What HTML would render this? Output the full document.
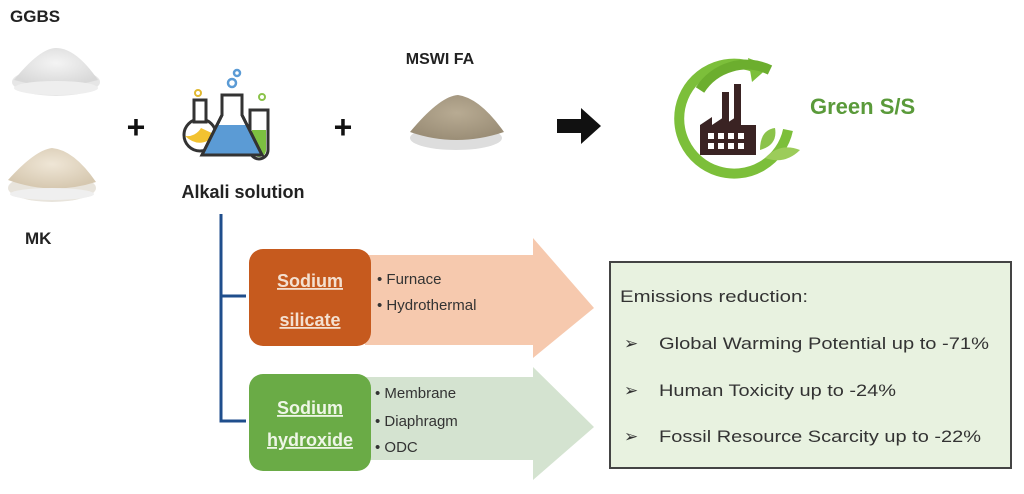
<!DOCTYPE html>
<html><head><meta charset="utf-8"><style>
html,body{margin:0;padding:0;background:#fff}
svg{display:block}
text{font-family:"Liberation Sans",sans-serif}
</style></head><body>
<svg width="1024" height="494" viewBox="0 0 1024 494" xmlns="http://www.w3.org/2000/svg">
<defs>
<radialGradient id="w" cx="50%" cy="40%" r="60%"><stop offset="0" stop-color="#f4f4f4"/><stop offset="1" stop-color="#d8d8d8"/></radialGradient>
<radialGradient id="mk" cx="50%" cy="40%" r="60%"><stop offset="0" stop-color="#efe6d6"/><stop offset="1" stop-color="#d6c8b0"/></radialGradient>
<radialGradient id="fa" cx="50%" cy="40%" r="60%"><stop offset="0" stop-color="#b8ab93"/><stop offset="1" stop-color="#9b8e77"/></radialGradient>
</defs>
<text x="10" y="22" font-size="17" font-weight="bold" fill="#222">GGBS</text>
<ellipse cx="56" cy="82" rx="44" ry="14" fill="#e6e6e6"/>
<path d="M14 80 Q40 48 56 48 Q76 48 98 80 Q56 92 14 80Z" fill="url(#w)"/>
<ellipse cx="56" cy="88" rx="42" ry="7" fill="#eee"/>
<ellipse cx="52" cy="188" rx="44" ry="14" fill="#e8e4dc"/>
<path d="M8 180 Q35 150 52 148 Q74 150 96 182 Q52 196 8 180Z" fill="url(#mk)"/>
<ellipse cx="52" cy="194" rx="42" ry="6" fill="#efefef"/>
<text x="25" y="244" font-size="17" font-weight="bold" fill="#222">MK</text>
<text x="136" y="138" font-size="32" font-weight="bold" fill="#111" text-anchor="middle">+</text>
<text x="343" y="138" font-size="32" font-weight="bold" fill="#111" text-anchor="middle">+</text>
<g stroke="#333" stroke-width="3" fill="none">
<circle cx="200" cy="135" r="16" fill="#fff"/>
<rect x="194" y="100" width="12" height="22" fill="#fff"/>
<path d="M201 128 a16 16 0 0 1 -16 8 Q200 150 216 135Z" fill="#f2c230" stroke="none"/>
<path d="M250 110 h18 v40 a9 9 0 0 1 -18 0Z" fill="#fff"/>
<path d="M252 130 h14 v20 a7 7 0 0 1 -14 0Z" fill="#7cc040" stroke="none"/>
<path d="M222 95 h20 v20 l20 40 h-60 l20 -40Z" fill="#fff"/>
<path d="M217 125 h30 l14 29 h-58Z" fill="#5b9bd5" stroke="none"/>
<path d="M222 95 h20 v20 l20 40 h-60 l20 -40Z"/>
</g>
<g stroke="#5b9bd5" stroke-width="2.5" fill="none"><circle cx="232" cy="83" r="4"/><circle cx="237" cy="73" r="3"/></g>
<circle cx="198" cy="93" r="3" stroke="#e0b830" stroke-width="2" fill="none"/>
<circle cx="262" cy="97" r="3" stroke="#8bc34a" stroke-width="2" fill="none"/>
<text x="243" y="198" font-size="18" font-weight="bold" fill="#222" text-anchor="middle">Alkali solution</text>
<text x="440" y="64" font-size="16" font-weight="bold" fill="#222" text-anchor="middle">MSWI FA</text>
<ellipse cx="456" cy="138" rx="46" ry="12" fill="#ddd"/>
<path d="M410 132 Q440 96 458 95 Q480 98 504 132 Q456 148 410 132Z" fill="url(#fa)"/>
<path d="M557 119 h24 v-11 l20 18 l-20 18 v-11 h-24Z" fill="#111"/>
<path d="M760 70 A55 55 0 1 0 788 130" stroke="#7cbf3a" stroke-width="10" fill="none"/>
<path d="M748 58 l22 8 l-18 16Z" fill="#7cbf3a"/>
<path d="M700 90 A55 55 0 0 1 770 70" stroke="#6cae2e" stroke-width="10" fill="none"/>
<g fill="#3a2323">
<rect x="722" y="92" width="7" height="36"/><rect x="734" y="84" width="7" height="44"/>
<path d="M700 155 V125 l12 -8 v8 l12 -8 v8 l12 -8 v8 h20 v30Z"/>
</g>
<g fill="#fff"><rect x="708" y="133" width="6" height="6"/><rect x="718" y="133" width="6" height="6"/><rect x="728" y="133" width="6" height="6"/><rect x="738" y="133" width="6" height="6"/><rect x="708" y="143" width="6" height="6"/><rect x="718" y="143" width="6" height="6"/><rect x="728" y="143" width="6" height="6"/><rect x="738" y="143" width="6" height="6"/></g>
<path d="M760 150 Q760 130 775 128 Q778 145 760 150Z" fill="#8bc34a"/>
<path d="M765 158 Q780 142 800 150 Q785 165 765 158Z" fill="#9ccc5a"/>
<text x="810" y="114" font-size="22" font-weight="bold" fill="#5a9a3a">Green S/S</text>
<path d="M221 214 V421 H246 M221 296 H246" stroke="#1f4e8c" stroke-width="3" fill="none"/>
<path d="M365 255 H533 V238 L594 308 L533 358 V345 H365Z" fill="#f6c9ae"/>
<path d="M365 377 H533 V367 L594 427 L533 480 V460 H365Z" fill="#d4e3d0"/>
<rect x="249" y="249" width="122" height="97" rx="14" fill="#c65a1e"/>
<rect x="249" y="374" width="122" height="97" rx="14" fill="#6aab46"/>
<g font-size="18" font-weight="bold" fill="#f4e0d0" text-anchor="middle" text-decoration="underline">
<text x="310" y="287">Sodium</text><text x="310" y="326">silicate</text>
</g>
<g font-size="18" font-weight="bold" fill="#eef6e6" text-anchor="middle" text-decoration="underline">
<text x="310" y="414">Sodium</text><text x="310" y="446">hydroxide</text>
</g>
<g font-size="15" fill="#333">
<text x="377" y="284">• Furnace</text><text x="377" y="310">• Hydrothermal</text>
<text x="375" y="398">• Membrane</text><text x="375" y="426">• Diaphragm</text><text x="375" y="452">• ODC</text>
</g>
<rect x="610" y="262" width="401" height="206" fill="#e8f2e0" stroke="#444" stroke-width="2"/>
<g font-size="17" fill="#333" lengthAdjust="spacingAndGlyphs">
<text x="620" y="302" textLength="188" lengthAdjust="spacingAndGlyphs">Emissions reduction:</text>
<text x="624" y="349">➢</text><text x="659" y="349" textLength="330" lengthAdjust="spacingAndGlyphs">Global Warming Potential up to -71%</text>
<text x="624" y="396">➢</text><text x="659" y="396" textLength="237" lengthAdjust="spacingAndGlyphs">Human Toxicity  up to -24%</text>
<text x="624" y="442">➢</text><text x="659" y="442" textLength="322" lengthAdjust="spacingAndGlyphs">Fossil Resource Scarcity up to -22%</text>
</g>
</svg>
</body></html>
